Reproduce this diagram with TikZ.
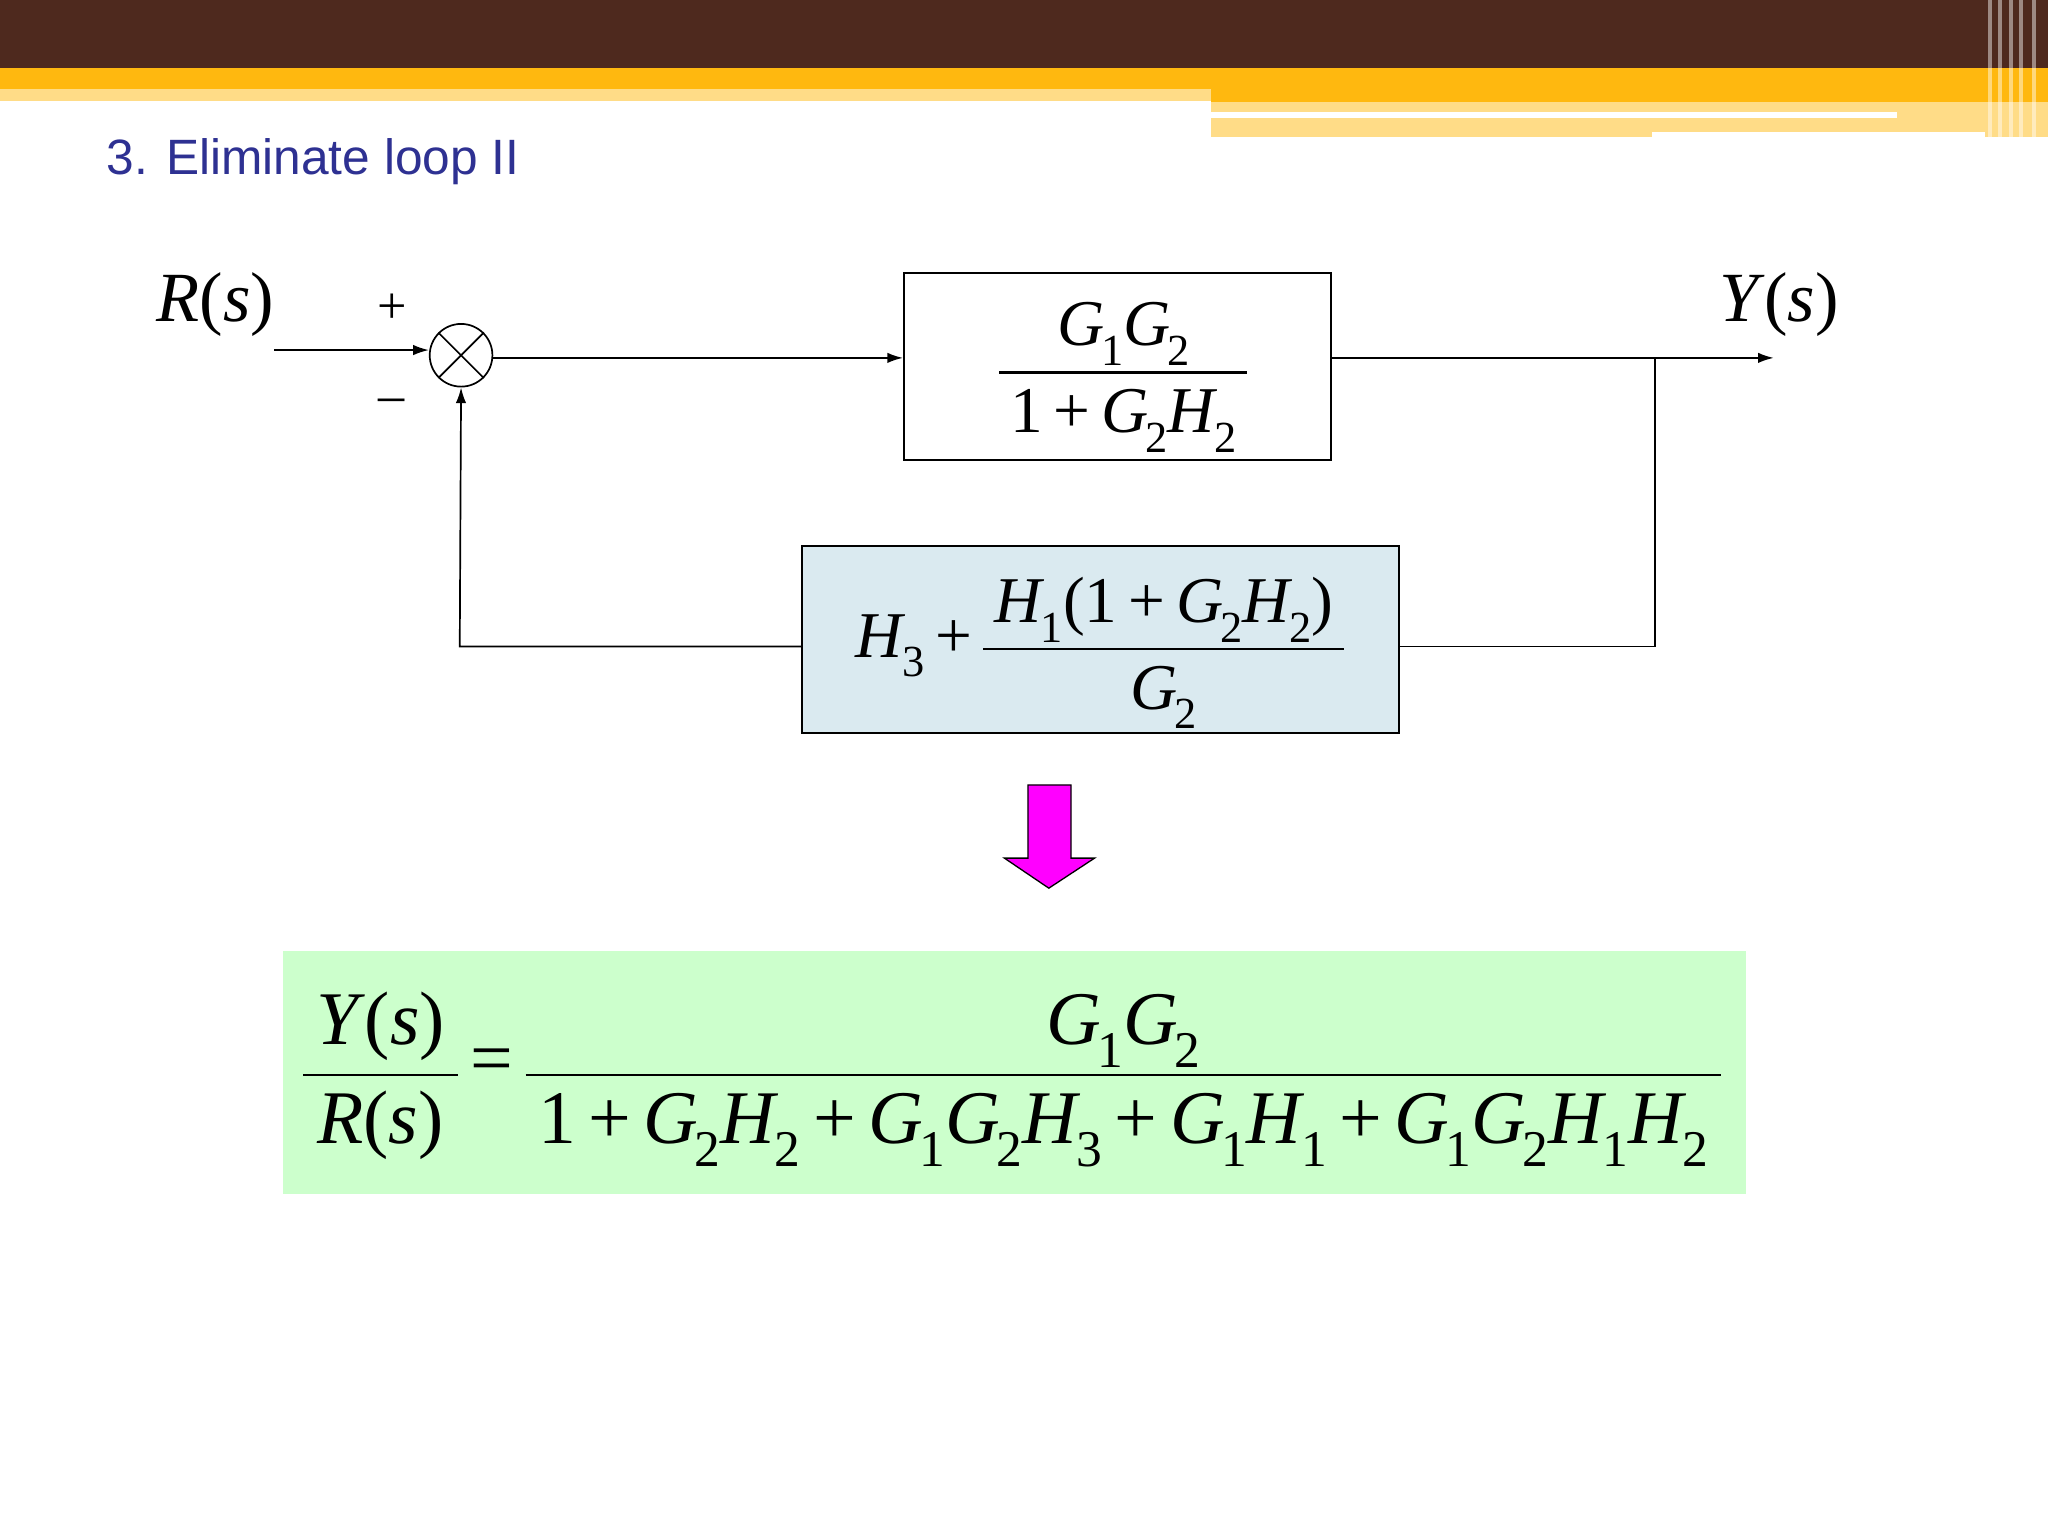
\documentclass[tikz,border=0pt]{standalone}
\usepackage{fontspec}
\setmainfont{Liberation Serif}
\newfontfamily\ttl{Liberation Sans}
\usetikzlibrary{arrows.meta}
\definecolor{brn}{RGB}{78,41,30}
\definecolor{org}{RGB}{255,184,15}
\definecolor{lyl}{RGB}{255,220,135}
\definecolor{ttlc}{RGB}{46,49,146}
\definecolor{bbox}{RGB}{218,234,240}
\definecolor{gbox}{RGB}{204,255,204}
\definecolor{mag}{RGB}{255,0,255}
\newcommand\sbs[1]{\raisebox{-0.3em}{\scalebox{0.68}{#1}}}
\newcommand\vv[2]{\textit{#1}\kern-0.05em\sbs{#2}}
\newcommand\fr[2]{{\setlength\arrayrulewidth{2pt}\renewcommand\arraystretch{1.15}\begin{tabular}{@{\,}c@{\,}}#1\\\hline #2\end{tabular}}}
\newcommand\pl{\,+\,}
\tikzset{blk/.style={draw,line width=1.3pt,minimum width=327pt,minimum height=143pt},
 ln/.style={line width=1.3pt},
 ar/.style={ln,-{Latex[length=12pt,width=8pt]}},
 big/.style={font=\fontsize{50}{56}\selectfont}}
\begin{document}
\begin{tikzpicture}[x=1pt,y=-1pt]
\useasboundingbox (0,0) rectangle (1568,1176);
\fill[white] (0,0) rectangle (1568,1176);
% header
\fill[brn] (0,0) rectangle (1568,52);
\fill[org] (0,52) rectangle (1568,68);
\fill[lyl] (0,68) rectangle (927,77);
\fill[org] (927,68) rectangle (1568,78);
\fill[lyl] (927,78) rectangle (1568,105);
\fill[white] (927,86) rectangle (1452,90);
\fill[white] (1265,101) rectangle (1520,106);
\foreach \x in {1522,1530,1538,1546,1556}{\fill[white,opacity=0.45] (\x,0) rectangle (\x+3,105);}
\node[anchor=west,text=ttlc,font=\ttl\fontsize{38}{42}\selectfont] (title) at (78,124) {3. Eliminate loop II};
% diagram
\node[font=\fontsize{54}{60}\selectfont] (R) at (165,233) {\textit{R}(\textit{s})};
\node[draw,circle,ln,minimum size=48pt,inner sep=0pt] (sum) at (353,272) {};
\draw[ln] (sum.north west)--(sum.south east) (sum.north east)--(sum.south west);
\node[font=\fontsize{40}{44}\selectfont] (plus) at (300,236) {+};
\node[font=\fontsize{40}{44}\selectfont] (minus) at (300,311) {--};
\coordinate (rin) at (210,268);
\draw[ar] (rin) -- (sum.west |- rin);
\node[blk] (b1) at (855.5,280.5) {};
\node[big] (f1) at (860,285) {\fr{\vv{G}{1}\vv{G}{2}}{1\pl\vv{G}{2}\vv{H}{2}}};
\node[blk,fill=bbox,minimum width=457pt] (b2) at (842.5,489.5) {};
\node[big] (f2) at (842,497) {\vv{H}{3}\pl\fr{\vv{H}{1}(1\pl\vv{G}{2}\vv{H}{2})}{\vv{G}{2}}};
\draw[ar] (sum.east |- 0,274) -- (b1.west |- 0,274);
\coordinate (br) at (1267,274);
\coordinate (yout) at (1358,274);
\draw[ar] (b1.east |- br) -- (yout);
\node[font=\fontsize{54}{60}\selectfont] (Y) at (1362,233) {\textit{Y}(\textit{s})};
\coordinate (c1) at (1267,495);
\coordinate (c2) at (352,495);
\draw[ln] (br) -- (c1) -- (b2.east |- c1);
\draw[ar] (b2.west |- c2) -- (c2) -- (sum.south);
% magenta arrow
\draw[fill=mag,line width=1pt] (787,601) -- (820,601) -- (820,657) -- (838,657) -- (803,680) -- (769,657) -- (787,657) -- cycle;
% result
\fill[gbox] (217,728) rectangle (1337,914);
\node[font=\fontsize{58}{64}\selectfont] (eq) at (775,823) {\fr{\textit{Y}(\textit{s})}{\textit{R}(\textit{s})}\,=\,\fr{\vv{G}{1}\vv{G}{2}}{1\pl\vv{G}{2}\vv{H}{2}\pl\vv{G}{1}\vv{G}{2}\vv{H}{3}\pl\vv{G}{1}\vv{H}{1}\pl\vv{G}{1}\vv{G}{2}\vv{H}{1}\vv{H}{2}}};
\end{tikzpicture}
\end{document}
